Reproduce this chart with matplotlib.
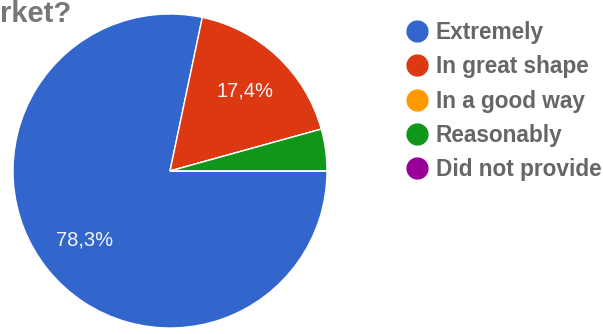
import matplotlib.pyplot as plt
from matplotlib.lines import Line2D

plt.rcParams['font.family'] = ['Liberation Sans', 'DejaVu Sans']

labels = ['Extremely', 'In great shape', 'In a good way', 'Reasonably', 'Did not provide']
values = [78.3, 17.4, 0.0, 4.3, 0.0]
colors = ['#3366cc', '#dc3912', '#ff9900', '#109618', '#990099']


def pct_label(p):
    # google style: comma decimals, no label on tiny slices
    if p < 5:
        return ''
    return ('%.1f%%' % p).replace('.', ',')


fig = plt.figure(figsize=(6.03, 3.34), dpi=100)
W, H = 603, 334
cx, cy, r = 170, 334 - 171, 157
ax = fig.add_axes([(cx - r) / W, (cy - r) / H, 2 * r / W, 2 * r / H])

ax.pie(values, colors=colors, startangle=0, counterclock=False,
       autopct=pct_label, pctdistance=0.7, radius=1,
       wedgeprops={'edgecolor': 'white', 'linewidth': 1},
       textprops={'color': '#f4f4f8', 'fontsize': 14.5})
ax.set_xlim(-1, 1)
ax.set_ylim(-1, 1)
ax.set_aspect('equal')
ax.axis('off')

fig.text(0.0, 1.0, 'rket?', fontsize=21, fontweight='bold', color='#777777',
         ha='left', va='top')

handles = [Line2D([], [], marker='o', linestyle='none', markersize=15,
                  markerfacecolor=c, markeredgecolor=c) for c in colors]
fig.legend(handles, labels, loc='upper left', bbox_to_anchor=(408 / W, 1 - 21 / H),
           frameon=False, handlelength=0.8, handletextpad=0.42, labelspacing=0.5,
           borderaxespad=0, borderpad=0,
           prop={'size': 16.3, 'weight': 'bold'}, labelcolor='#666666')

fig.savefig('out.png', dpi=100)
